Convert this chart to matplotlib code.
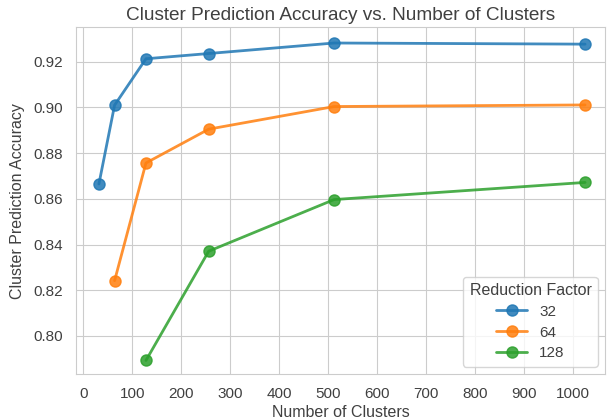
import matplotlib
matplotlib.use("Agg")
import matplotlib.pyplot as plt
import seaborn as sns

# Datos
clusters_32 = [32, 64, 128, 256, 512, 1024]
acc_32 = [0.8665, 0.901, 0.9213, 0.9236, 0.9282, 0.9277]
clusters_64 = [64, 128, 256, 512, 1024]
acc_64 = [0.8242, 0.8757, 0.8905, 0.9004, 0.9011]
clusters_128 = [128, 256, 512, 1024]
acc_128 = [0.7893, 0.8371, 0.8597, 0.8672]

series = [("32", clusters_32, acc_32),
          ("64", clusters_64, acc_64),
          ("128", clusters_128, acc_128)]

sns.set_style("whitegrid")
plt.rcParams['font.family'] = ['Liberation Sans', 'DejaVu Sans']
txt = '#404040'

fig, ax = plt.subplots(figsize=(6.07, 4.19), dpi=100)
for label, x, y in series:
    ax.plot(x, y, marker='o', markersize=8, linewidth=2, alpha=0.85, label=label)

ax.set_title('Cluster Prediction Accuracy vs. Number of Clusters', fontsize=13.7, color=txt, pad=5)
ax.set_xlabel('Number of Clusters', fontsize=11.5, color=txt, labelpad=3)
ax.set_ylabel('Cluster Prediction Accuracy', fontsize=11.5, color=txt, labelpad=6)
ax.set_xticks(range(0, 1001, 100))
ax.set_yticks([0.80, 0.82, 0.84, 0.86, 0.88, 0.90, 0.92])
ax.set_xlim(-15, 1065)
ax.set_ylim(0.7833, 0.9351)
ax.tick_params(labelsize=11, colors=txt, length=0, pad=9)

leg = ax.legend(title='Reduction Factor', loc='lower right', fontsize=11, title_fontsize=11.5,
                labelspacing=0.45)
for t in leg.get_texts():
    t.set_color(txt)
leg.get_title().set_color(txt)

plt.subplots_adjust(left=0.125, right=0.997, top=0.935, bottom=0.107)
plt.savefig('out.png', dpi=100)
